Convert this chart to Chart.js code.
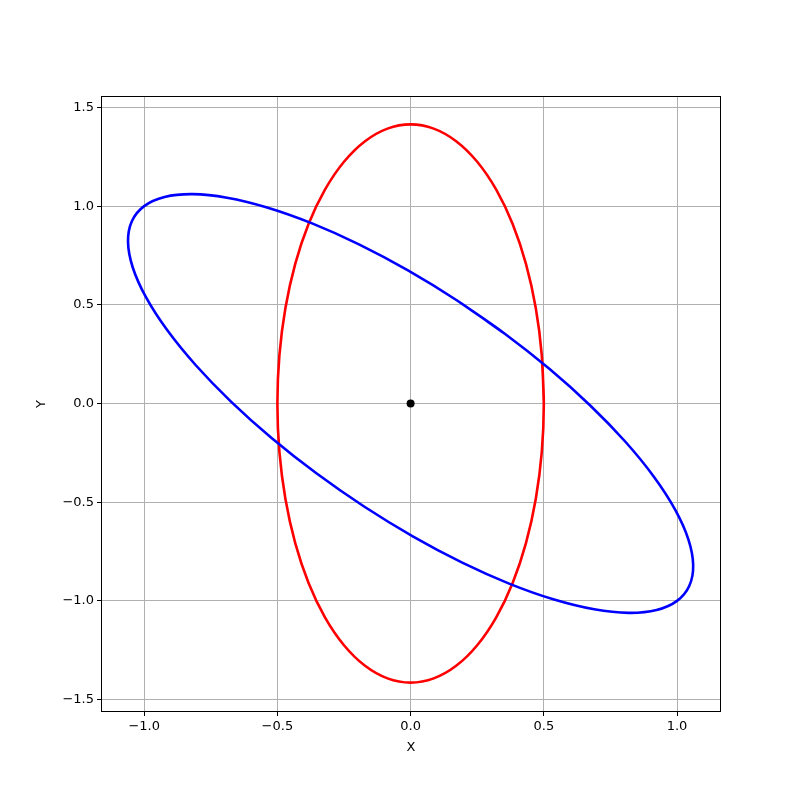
<!DOCTYPE html>
<html>
<head>
<meta charset="utf-8">
<script src="https://cdn.jsdelivr.net/npm/chart.js@4"></script>
<style>
  body { margin: 0; background: #fff; }
  canvas { display: block; }
</style>
</head>
<body>
<canvas id="chart" width="800" height="799"></canvas>
<script>
// red ellipse (half-width 0.5, half-height ~1.414)
// last point repeats the second one so the closed curve joins smoothly
const redX = [0.5, 0.4924, 0.4698, 0.433, 0.383, 0.3214, 0.25, 0.171, 0.0868, 0,
              -0.0868, -0.171, -0.25, -0.3214, -0.383, -0.433, -0.4698, -0.4924,
              -0.5, -0.4924, -0.4698, -0.433, -0.383, -0.3214, -0.25, -0.171, -0.0868, 0,
              0.0868, 0.171, 0.25, 0.3214, 0.383, 0.433, 0.4698, 0.4924, 0.5, 0.4924];
const redY = [0, 0.2455, 0.4837, 0.7071, 0.9091, 1.0833, 1.2247, 1.3289, 1.3927, 1.4142,
              1.3927, 1.3289, 1.2247, 1.0833, 0.9091, 0.7071, 0.4837, 0.2455,
              0, -0.2455, -0.4837, -0.7071, -0.9091, -1.0833, -1.2247, -1.3289, -1.3927, -1.4142,
              -1.3927, -1.3289, -1.2247, -1.0833, -0.9091, -0.7071, -0.4837, -0.2455, 0, 0.2455];

// blue ellipse, tilted
const blueX = [0.3536, 0.1746, -0.0098, -0.1938, -0.372, -0.5387, -0.6892, -0.8188, -0.9234, -1.0,
               -1.0462, -1.0606, -1.0428, -0.9933, -0.9137, -0.8062, -0.6742, -0.5218,
               -0.3536, -0.1746, 0.0098, 0.1938, 0.372, 0.5387, 0.6892, 0.8188, 0.9234, 1.0,
               1.0462, 1.0606, 1.0428, 0.9933, 0.9137, 0.8062, 0.6742, 0.5218, 0.3536, 0.1746];
const blueY = [0.3536, 0.5218, 0.6742, 0.8062, 0.9137, 0.9933, 1.0428, 1.0606, 1.0462, 1.0,
               0.9234, 0.8188, 0.6892, 0.5387, 0.372, 0.1938, 0.0098, -0.1746,
               -0.3536, -0.5218, -0.6742, -0.8062, -0.9137, -0.9933, -1.0428, -1.0606, -1.0462, -1.0,
               -0.9234, -0.8188, -0.6892, -0.5387, -0.372, -0.1938, -0.0098, 0.1746, 0.3536, 0.5218];

const centerPoint = [{ x: 0, y: 0 }];

const xTicks = [-1.0, -0.5, 0.0, 0.5, 1.0];
const xTickLabels = ['\u22121.0', '\u22120.5', '0.0', '0.5', '1.0'];
const yTicks = [-1.5, -1.0, -0.5, 0.0, 0.5, 1.0, 1.5];
const yTickLabels = ['\u22121.5', '\u22121.0', '\u22120.5', '0.0', '0.5', '1.0', '1.5'];

const toPoints = (xs, ys) => xs.map((x, i) => ({ x: x, y: ys[i] }));

// frame around the plot area, like matplotlib's spines
const framePlugin = {
    id: 'frame',
    afterDatasetsDraw(chart) {
        const { ctx, chartArea: a } = chart;
        ctx.save();
        ctx.strokeStyle = '#000';
        ctx.lineWidth = 1;
        ctx.strokeRect(a.left + 0.5, a.top + 0.5, a.right - a.left - 1, a.bottom - a.top - 1);
        ctx.restore();
    }
};

const font = { family: 'DejaVu Sans', size: 13 };

new Chart(document.getElementById('chart').getContext('2d'), {
    type: 'scatter',
    data: {
        datasets: [
            {
                data: toPoints(redX, redY),
                showLine: true,
                borderColor: '#ff0000',
                borderWidth: 2.6,
                pointRadius: 0,
                tension: 0.33,
                order: 2
            },
            {
                data: toPoints(blueX, blueY),
                showLine: true,
                borderColor: '#0000ff',
                borderWidth: 2.6,
                pointRadius: 0,
                tension: 0.33,
                order: 1
            },
            {
                data: centerPoint,
                pointRadius: 4,
                pointBackgroundColor: '#000',
                pointBorderWidth: 0,
                order: 0
            }
        ]
    },
    options: {
        responsive: false,
        animation: false,
        layout: { padding: { left: 30, right: 79, top: 96, bottom: 42 } },
        plugins: {
            legend: { display: false },
            tooltip: { enabled: false }
        },
        scales: {
            x: {
                type: 'linear',
                min: -1.162,
                max: 1.165,
                afterFit: scale => { scale.height = 45; },
                afterBuildTicks: scale => { scale.ticks = xTicks.map(v => ({ value: v })); },
                ticks: {
                    color: '#000',
                    font: font,
                    padding: 3,
                    maxRotation: 0,
                    callback: (v) => xTickLabels[xTicks.indexOf(v)]
                },
                grid: { color: '#b0b0b0', lineWidth: 1, tickColor: '#000', tickLength: 4 },
                border: { display: false },
                title: { display: true, text: 'X', color: '#000', font: font, padding: { top: 0, bottom: 2 } }
            },
            y: {
                type: 'linear',
                min: -1.563,
                max: 1.558,
                afterFit: scale => { scale.width = 71; },
                afterBuildTicks: scale => { scale.ticks = yTicks.map(v => ({ value: v })); },
                ticks: {
                    color: '#000',
                    font: font,
                    padding: 3,
                    callback: (v) => yTickLabels[yTicks.indexOf(v)]
                },
                grid: { color: '#b0b0b0', lineWidth: 1, tickColor: '#000', tickLength: 4 },
                border: { display: false },
                title: { display: true, text: 'Y', color: '#000', font: font, padding: { top: 4, bottom: 0 } }
            }
        }
    },
    plugins: [framePlugin]
});
</script>
</body>
</html>
